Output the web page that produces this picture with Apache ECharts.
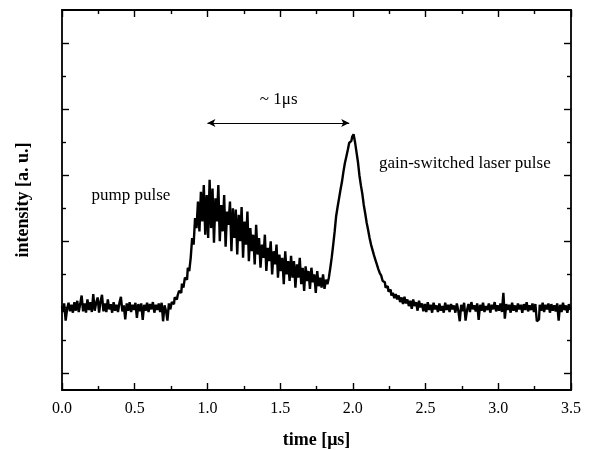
<!DOCTYPE html>
<html><head><meta charset="utf-8">
<script src="https://cdn.jsdelivr.net/npm/echarts@6/dist/echarts.min.js"></script>
<style>html,body{margin:0;padding:0;background:#fff}#c{width:590px;height:450px}</style>
</head><body><div id="c"></div>
<script>
// sampling grid of the trace (time in microseconds)
const T_START = 0.0;
const T_STEP = 0.01;
// intensity [a.u.], one value per 0.01 us, t = 0.00 ... 3.50
const intensity = [
  1.02,0.93,1.06,0.80,0.97,1.07,0.94,1.04,0.92,1.08,
  0.95,1.10,0.93,1.05,1.18,0.94,1.06,0.92,1.12,0.96,
  1.08,0.93,1.20,0.95,1.07,1.15,0.92,1.09,1.19,0.94,
  1.06,0.93,1.12,0.97,1.05,0.92,1.08,0.95,1.04,0.93,
  1.07,1.16,0.94,1.03,0.82,1.06,0.95,1.08,0.93,1.04,
  0.96,1.07,0.84,1.05,0.94,1.06,0.81,1.04,0.95,1.07,
  0.93,1.05,0.97,1.08,0.92,1.04,0.96,1.06,0.93,1.07,
  0.79,1.03,0.95,0.80,1.06,0.97,1.08,1.05,1.15,1.12,
  1.18,1.25,1.22,1.36,1.30,1.45,1.42,1.60,1.55,1.75,
  2.05,1.95,2.35,2.20,2.60,2.15,2.75,2.30,2.85,2.10,
  2.70,2.05,2.93,2.20,2.80,1.98,2.65,2.30,2.85,2.00,
  2.55,2.15,2.70,1.92,2.45,2.25,2.60,1.85,2.50,2.05,
  2.48,1.80,2.40,2.00,2.52,1.75,2.30,1.95,2.45,1.70,
  2.20,1.85,2.10,1.65,2.25,1.80,2.05,1.60,1.95,1.75,
  2.10,1.55,1.90,1.70,2.00,1.50,1.85,1.65,1.95,1.45,
  1.80,1.55,1.75,1.35,1.85,1.50,1.70,1.40,1.78,1.45,
  1.70,1.30,1.65,1.45,1.75,1.35,1.60,1.25,1.62,1.40,
  1.55,1.28,1.60,1.38,1.50,1.22,1.55,1.32,1.45,1.30,
  1.50,1.28,1.42,1.35,1.45,1.60,1.76,1.95,2.15,2.38,
  2.52,2.65,2.78,2.90,3.05,3.18,3.28,3.38,3.49,3.52,
  3.58,3.62,3.50,3.35,3.20,3.00,2.85,2.72,2.55,2.42,
  2.28,2.17,2.05,1.95,1.87,1.79,1.72,1.65,1.58,1.52,
  1.48,1.40,1.38,1.30,1.32,1.24,1.27,1.18,1.22,1.14,
  1.20,1.12,1.18,1.08,1.15,1.05,1.16,1.06,1.12,1.02,
  1.10,0.98,1.12,1.02,1.08,0.95,1.10,1.00,1.06,0.94,
  1.05,0.93,1.08,0.96,1.04,0.92,1.07,0.97,1.03,0.93,
  1.06,0.95,1.02,0.92,1.07,0.96,1.04,0.93,1.05,0.97,
  1.03,0.92,1.06,0.95,0.79,1.04,0.94,1.07,0.80,0.96,
  1.05,0.93,1.08,0.97,1.03,0.94,1.06,0.81,1.04,0.95,
  1.07,0.93,1.02,0.96,1.06,0.92,1.04,0.97,1.08,0.94,
  1.03,0.95,1.06,0.93,1.22,0.83,1.05,0.96,1.04,0.92,
  1.07,0.95,1.03,0.93,1.06,0.97,1.04,0.92,1.05,0.96,
  1.08,0.94,1.03,0.96,1.06,0.93,1.05,0.79,0.82,1.04,
  0.95,1.07,0.93,1.04,0.97,1.06,0.92,1.05,0.95,1.03,
  0.94,1.06,0.80,1.04,0.93,1.07,0.96,1.03,0.92,1.05,
  0.97
];
const xMin = 0, xMax = 3.5, xInterval = 0.5;
const yMin = -0.25, yMax = 5.5;
const yMajorTicks = [0, 1, 2, 3, 4, 5];
const yMinorTicks = [0.5, 1.5, 2.5, 3.5, 4.5];
const xTitle = 'time [μs]';
const yTitle = 'intensity [a. u.]';
const annotationTexts = ['pump pulse', '~ 1μs', 'gain-switched laser pulse'];
const annotationAt = [[0.474, 2.70], [1.49, 4.15], [2.77, 3.18]];
const arrowFrom = [1.0, 3.79];
const arrowTo = [1.975, 3.79];

const FONT = 'Liberation Serif';
const trace = intensity.map((v, i) => [+(T_START + i * T_STEP).toFixed(2), v]);

function xAxisDef(pos, labels) {
  return {
    type: 'value', position: pos, min: xMin, max: xMax, interval: xInterval,
    name: labels ? xTitle : '', nameLocation: 'middle', nameGap: 41,
    nameTextStyle: { fontFamily: FONT, fontSize: 18, fontWeight: 'bold', color: '#000' },
    axisLine: { show: true, onZero: false, lineStyle: { color: '#000', width: 1.8 } },
    axisTick: { show: true, inside: true, length: 7, lineStyle: { color: '#000', width: 1.4 } },
    minorTick: { show: true, splitNumber: 2, length: 4, lineStyle: { color: '#000', width: 1.4 } },
    axisLabel: { show: labels, margin: 11, fontFamily: FONT, fontSize: 16, color: '#000',
      formatter: v => v.toFixed(1) },
    splitLine: { show: false }, minorSplitLine: { show: false }
  };
}
function yAxisDef(pos, ticks, len, line, name) {
  return {
    type: 'value', position: pos, min: yMin, max: yMax,
    name: name || '', nameLocation: 'middle', nameGap: 30,
    nameTextStyle: { fontFamily: FONT, fontSize: 18, fontWeight: 'bold', color: '#000' },
    axisLine: { show: line, onZero: false, lineStyle: { color: '#000', width: 1.8 } },
    axisTick: { show: true, inside: true, length: len, customValues: ticks,
      lineStyle: { color: '#000', width: 1.4 } },
    axisLabel: { show: false },
    splitLine: { show: false }
  };
}

const chart = echarts.init(document.getElementById('c'), null, { renderer: 'canvas' });
chart.setOption({
  animation: false,
  backgroundColor: '#fff',
  grid: { left: 62, right: 19, top: 10, bottom: 60, containLabel: false, outerBoundsMode: 'none' },
  xAxis: [xAxisDef('bottom', true), xAxisDef('top', false)],
  yAxis: [
    yAxisDef('left', yMajorTicks, 7, true, yTitle),
    yAxisDef('left', yMinorTicks, 4, false),
    yAxisDef('right', yMajorTicks, 7, true),
    yAxisDef('right', yMinorTicks, 4, false)
  ],
  series: [{
    type: 'line', xAxisIndex: 0, yAxisIndex: 0, data: trace,
    showSymbol: false, step: 'middle',
    lineStyle: { color: '#000', width: 2.4 },
    markPoint: {
      symbol: 'circle', symbolSize: 0, silent: true,
      label: { show: true, position: 'inside', fontFamily: FONT, fontSize: 17, color: '#000' },
      data: annotationTexts.map((t, i) => ({ coord: annotationAt[i], value: t,
        label: { formatter: t } }))
    },
    markLine: {
      silent: true, symbol: ['arrow', 'arrow'], symbolSize: [6, 8],
      label: { show: false },
      lineStyle: { color: '#000', width: 1, type: 'solid' },
      data: [[{ coord: arrowFrom }, { coord: arrowTo }]]
    }
  }]
});
</script></body></html>
